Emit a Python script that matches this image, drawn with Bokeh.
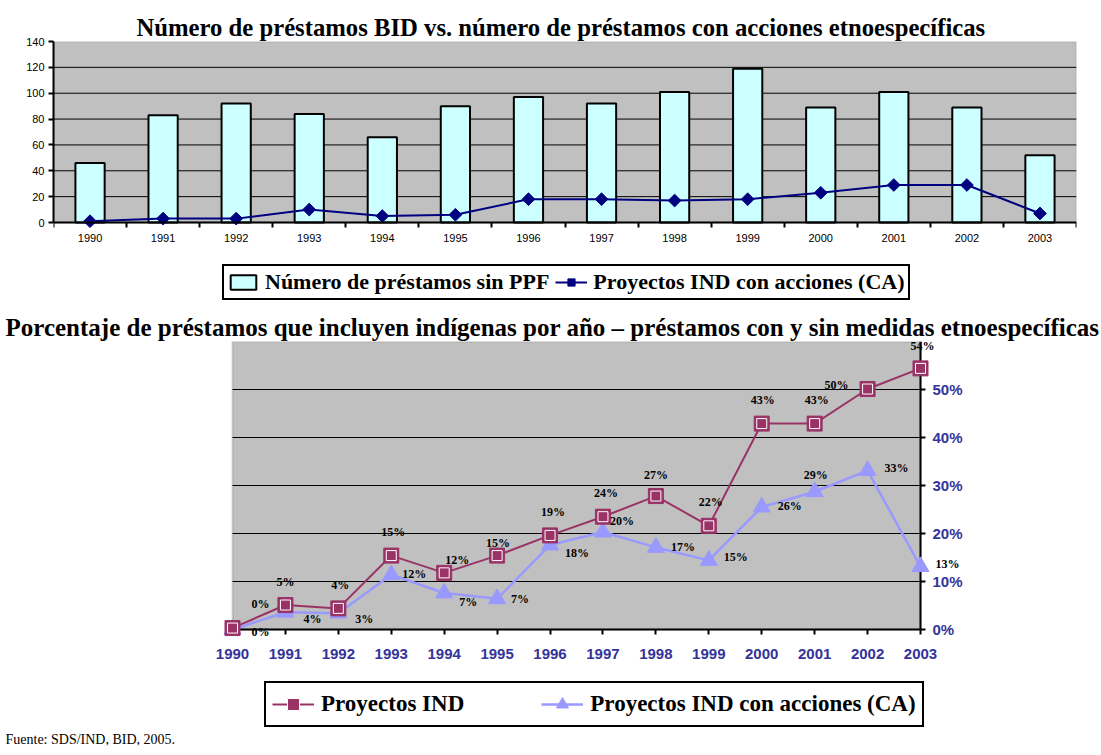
import math
from bokeh.plotting import figure
from bokeh.models import (Range1d, LinearAxis, FixedTicker, Legend, LegendItem, Label,
                          BoxAnnotation, ColumnDataSource, LabelSet)
from bokeh.layouts import column
from bokeh.embed import file_html
from bokeh.resources import INLINE
from bokeh.core.properties import value

# ---------------- data ----------------
years = [1990, 1991, 1992, 1993, 1994, 1995, 1996, 1997, 1998, 1999, 2000, 2001, 2002, 2003]
prestamos_sin_ppf = [46, 83, 92, 84, 66, 90, 97, 92, 101, 119, 89, 101, 89, 52]
proyectos_ca_count = [1, 3, 3, 10, 5, 6, 18, 18, 17, 18, 23, 29, 29, 7]
top_yticks = [0, 20, 40, 60, 80, 100, 120, 140]

pct_ind = [0.3, 5.1, 4.4, 15.4, 11.8, 15.4, 19.6, 23.5, 27.8, 21.6, 42.9, 42.9, 50.1, 54.4]
pct_ca = [0.0, 3.6, 3.4, 11.4, 7.6, 6.4, 17.6, 20.3, 17.1, 14.4, 25.5, 28.7, 33.1, 13.1]
lab_ind = ["0%", "5%", "4%", "15%", "12%", "15%", "19%", "24%", "27%", "22%", "43%", "43%", "50%", "54%"]
lab_ca = ["0%", "4%", "3%", "12%", "7%", "7%", "18%", "20%", "17%", "15%", "26%", "29%", "33%", "13%"]
pct_ticks = [0, 10, 20, 30, 40, 50]
pct_tick_labels = ["0%", "10%", "20%", "30%", "40%", "50%"]
pct_max = 60

# label placement (pixels, x right / y up) -- style only
ind_dx = [28, 0, 2, 2, 13, 1, 3, 3, 0, 2, 1, 2, -31, 2]
ind_dy = [24, 23, 23, 24, 13, 13, 23, 24, 21, 24, 24, 24, 4, 22]
ca_dx = [28, 27, 26, 23, 24, 23, 27, 19, 27, 27, 28, 1, 29, 27]
ca_dy = [-2, -7, -6, 1, -9, 0, -8, 11, 0, 3, 1, 17, 3, 3]

SERIF = "Liberation Serif"
SANS = "Liberation Sans"
W = 1100
xs = list(range(len(years)))
year_labels = {i: str(y) for i, y in enumerate(years)}


def no_align(p):
    if "frame_align" in p.properties():
        p.frame_align = False


# ---------------- top chart (layout in page pixels) ----------------
H1 = 310
F1_L, F1_R, F1_T, F1_B = 53, 1076, 41, 302      # frame edges
Y0_1 = 222                                        # pixel row of value 0
top_max = top_yticks[-1]
ppu1 = (Y0_1 - F1_T) / top_max
p1 = figure(width=W, height=H1, x_range=Range1d(-0.5, len(years) - 0.5),
            y_range=Range1d(-(F1_B - Y0_1) / ppu1, top_max), output_backend="svg",
            toolbar_location=None, x_axis_location=None, y_axis_location=None,
            min_border_left=F1_L, min_border_right=W - F1_R, min_border_top=F1_T,
            min_border_bottom=H1 - F1_B,
            background_fill_color="white", border_fill_color="white")
no_align(p1)
p1.outline_line_color = None
p1.title.text = "Número de préstamos BID vs. número de préstamos con acciones etnoespecíficas"
p1.title.align = "left"
p1.title.offset = 136 - F1_L
p1.title.standoff = 1
p1.title.text_font = SERIF
p1.title.text_font_style = "bold"
p1.title.text_font_size = "24.7px"
p1.title.text_color = "black"
p1.xgrid.visible = False
p1.ygrid.visible = False

p1.add_layout(BoxAnnotation(left=-0.5, right=len(years) - 0.5, bottom=0, top=top_max,
                            fill_color="#C0C0C0", fill_alpha=1, line_color="#808080",
                            line_width=2, level="underlay"))
inner = top_yticks[1:-1]
p1.segment(x0=[-0.5] * len(inner), x1=[len(years) - 0.5] * len(inner),
           y0=inner, y1=inner, line_color="black", line_width=1)

xa = LinearAxis(fixed_location=0,
                ticker=FixedTicker(ticks=xs, minor_ticks=[i - 0.5 for i in range(len(years) + 1)]))
xa.major_label_overrides = year_labels
xa.major_tick_out = 0
xa.major_tick_in = 0
xa.minor_tick_out = 5
xa.minor_tick_in = 0
xa.minor_tick_line_color = "black"
xa.minor_tick_line_width = 2
xa.axis_line_width = 2
xa.axis_line_color = "black"
xa.major_label_standoff = 6
xa.major_label_text_font = SANS
xa.major_label_text_font_size = "11px"
xa.major_label_text_color = "black"
p1.add_layout(xa, "below")

ya = LinearAxis(bounds=(0, top_max), ticker=FixedTicker(ticks=top_yticks))
ya.major_tick_out = 5
ya.major_tick_in = 0
ya.minor_tick_out = 0
ya.minor_tick_in = 0
ya.axis_line_width = 2
ya.axis_line_color = "black"
ya.major_tick_line_width = 2
ya.major_tick_line_color = "black"
ya.major_label_standoff = 4
ya.major_label_text_font = SANS
ya.major_label_text_font_size = "11px"
ya.major_label_text_color = "black"
p1.add_layout(ya, "left")

src1 = ColumnDataSource(dict(x=xs, bars=prestamos_sin_ppf, ca=proyectos_ca_count))
bars = p1.vbar(x="x", top="bars", width=0.4, source=src1, fill_color="#CCFFFF",
               line_color="black", line_width=2)
l1 = p1.line(x="x", y="ca", source=src1, line_color="#000080", line_width=2)
m1 = p1.scatter(x="x", y="ca", source=src1, marker="square", angle=math.pi / 4, size=9,
                fill_color="#000080", line_color="#000080")

leg1 = Legend(items=[LegendItem(label="Número de préstamos sin PPF", renderers=[bars]),
                     LegendItem(label="Proyectos IND con acciones (CA)", renderers=[l1, m1])],
              orientation="horizontal", location=(222 - F1_L, F1_B - 300))
leg1.label_text_font = SERIF
leg1.label_text_font_style = "bold"
leg1.label_text_font_size = "22px"
leg1.label_text_color = "black"
leg1.border_line_color = "black"
leg1.border_line_width = 2
leg1.border_line_alpha = 1
leg1.background_fill_color = "white"
leg1.background_fill_alpha = 1
leg1.glyph_width = 32
leg1.glyph_height = 18
leg1.label_standoff = 6
leg1.spacing = 6
leg1.padding = 3
leg1.margin = 0
p1.add_layout(leg1, "center")

# ---------------- bottom chart (layout in page pixels, origin at p2 top = 310) ----------------
H2 = 444
TOP2 = H1
F2_L, F2_R, F2_T, F2_B = 0, 1080, 341, 745
X0_2, X13_2 = 232, 920        # pixel columns of first and last year
Y0_2 = 629                    # pixel row of 0 %
ppx = (X13_2 - X0_2) / xs[-1]
ppy = (Y0_2 - F2_T) / pct_max
p2 = figure(width=W, height=H2,
            x_range=Range1d((F2_L - X0_2) / ppx, (F2_R - X0_2) / ppx),
            y_range=Range1d(-(F2_B - Y0_2) / ppy, pct_max), output_backend="svg",
            toolbar_location=None, x_axis_location=None, y_axis_location=None,
            min_border_left=F2_L, min_border_right=W - F2_R, min_border_top=F2_T - TOP2,
            min_border_bottom=TOP2 + H2 - F2_B,
            background_fill_color="white", border_fill_color="white")
no_align(p2)
p2.outline_line_color = None
p2.xgrid.visible = False
p2.ygrid.visible = False
p2.title.text = "Porcentaje de préstamos que incluyen indígenas por año – préstamos con y sin medidas etnoespecíficas"
p2.title.align = "left"
p2.title.offset = 5 - F2_L
p2.title.standoff = 2
p2.title.text_font = SERIF
p2.title.text_font_style = "bold"
p2.title.text_font_size = "25px"
p2.title.text_color = "black"

p2.add_layout(BoxAnnotation(left=xs[0], right=xs[-1], bottom=0, top=pct_max,
                            fill_color="#C0C0C0", fill_alpha=1, line_color="#808080",
                            line_width=2, level="underlay"))
grid_vals = pct_ticks[1:]
p2.segment(x0=[xs[0]] * len(grid_vals), x1=[xs[-1]] * len(grid_vals), y0=grid_vals, y1=grid_vals,
           line_color="black", line_width=1)

xb = LinearAxis(fixed_location=0, bounds=(xs[0], xs[-1]), ticker=FixedTicker(ticks=xs))
xb.major_label_overrides = year_labels
xb.major_tick_out = 5
xb.major_tick_in = 0
xb.minor_tick_out = 0
xb.minor_tick_in = 0
xb.axis_line_width = 2
xb.axis_line_color = "black"
xb.major_tick_line_width = 2
xb.major_tick_line_color = "black"
xb.major_label_standoff = 14
xb.major_label_text_font = SANS
xb.major_label_text_font_style = "bold"
xb.major_label_text_font_size = "15px"
xb.major_label_text_color = "#333399"
p2.add_layout(xb, "below")

yb = LinearAxis(fixed_location=xs[-1], bounds=(0, pct_max), ticker=FixedTicker(ticks=pct_ticks))
yb.major_label_overrides = dict(zip(pct_ticks, pct_tick_labels))
yb.major_tick_out = 5
yb.major_tick_in = 0
yb.minor_tick_out = 0
yb.minor_tick_in = 0
yb.axis_line_width = 2
yb.axis_line_color = "black"
yb.major_tick_line_width = 2
yb.major_tick_line_color = "black"
yb.major_label_standoff = 7
yb.major_label_text_font = SANS
yb.major_label_text_font_style = "bold"
yb.major_label_text_font_size = "15px"
yb.major_label_text_color = "#333399"
p2.add_layout(yb, "right")

MAROON = "#993366"
PERI = "#9999FF"
src2 = ColumnDataSource(dict(x=xs, ind=pct_ind, ca=pct_ca, lind=lab_ind, lca=lab_ca,
                             idx=ind_dx, idy=ind_dy, cdx=ca_dx, cdy=ca_dy))
l_ind = p2.line(x="x", y="ind", source=src2, line_color=MAROON, line_width=2, level="overlay")
l_ca = p2.line(x="x", y="ca", source=src2, line_color=PERI, line_width=2.5, level="overlay")
m_ca = p2.scatter(x="x", y="ca", source=src2, marker="triangle", size=17,
                  fill_color=PERI, line_color=PERI, level="overlay")
m_ind = p2.scatter(x="x", y="ind", source=src2, marker="square", size=15,
                   fill_color=MAROON, line_color=MAROON, level="overlay")
m_ind2 = p2.scatter(x="x", y="ind", source=src2, marker="square", size=10,
                    fill_color=None, line_color="white", line_width=1, level="overlay")

for ycol, tcol, dxc, dyc in (("ind", "lind", "idx", "idy"), ("ca", "lca", "cdx", "cdy")):
    p2.add_layout(LabelSet(x="x", y=ycol, text=tcol, x_offset=dxc, y_offset=dyc, source=src2,
                           text_font=value(SERIF), text_font_style="bold", text_font_size="12px",
                           text_align="center", text_baseline="middle", text_color="black",
                           level="overlay"))

leg2 = Legend(items=[LegendItem(label="Proyectos IND", renderers=[l_ind, m_ind, m_ind2]),
                     LegendItem(label="Proyectos IND con acciones (CA)", renderers=[l_ca, m_ca])],
              orientation="horizontal", location=(264 - F2_L, F2_B - 727))
leg2.label_text_font = SERIF
leg2.label_text_font_style = "bold"
leg2.label_text_font_size = "23px"
leg2.label_text_color = "black"
leg2.border_line_color = "black"
leg2.border_line_width = 2
leg2.border_line_alpha = 1
leg2.background_fill_color = "white"
leg2.background_fill_alpha = 1
leg2.glyph_width = 42
leg2.glyph_height = 30
leg2.label_standoff = 7
leg2.spacing = 77
leg2.padding = 6
leg2.margin = 0
p2.add_layout(leg2, "center")

p2.add_layout(Label(x=5 - F2_L, y=F2_B - 739, x_units="screen", y_units="screen",
                    text="Fuente: SDS/IND, BID, 2005.", text_font=SERIF, text_font_size="14px",
                    text_color="black", text_baseline="middle", text_align="left"))

layout = column(p1, p2, spacing=0)
open("out.html", "w").write(file_html(layout, INLINE))
